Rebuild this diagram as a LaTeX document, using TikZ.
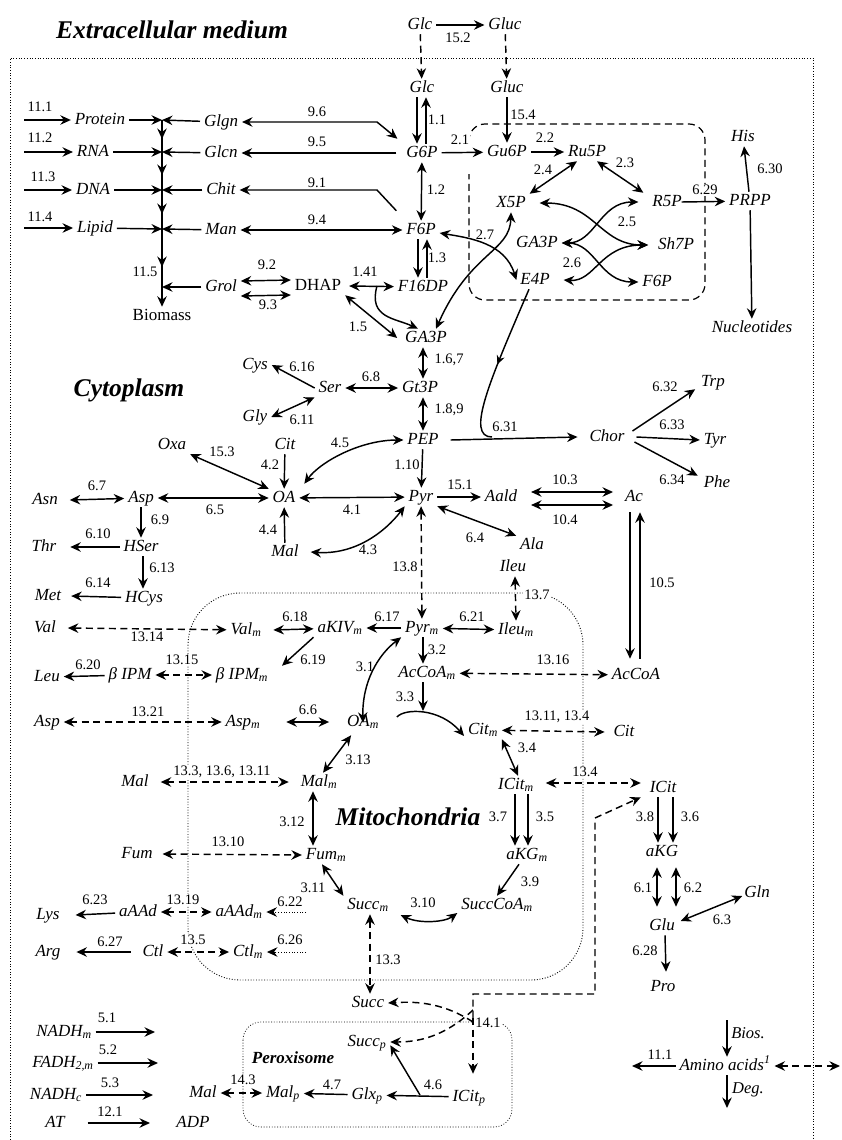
\documentclass[tikz,border=0pt]{standalone}
\usepackage{fontspec}
\setmainfont{Liberation Serif}
\usetikzlibrary{arrows.meta,decorations.markings}
\begin{document}
\begin{tikzpicture}[x=1pt,y=-1pt,
  mtb/.style={font=\fontsize{17}{19}\selectfont\itshape, inner xsep=4pt, inner ysep=1.5pt, text height=12pt, text depth=3.5pt, outer sep=0pt},
  upr/.style={mtb, font=\fontsize{17}{19}\selectfont},
  lab/.style={font=\fontsize{14.5}{16}\selectfont, inner sep=1pt, fill=white},
  labi/.style={font=\fontsize{16.5}{18}\selectfont\itshape, inner sep=1pt},
  ttl/.style={font=\fontsize{25.5}{28}\selectfont\bfseries\itshape, inner sep=0pt},
  ar/.style={-{Stealth[length=10.5pt,width=9.5pt,inset=3.5pt]}, line width=1.45pt},
  arr/.style={{Stealth[length=10.5pt,width=9.5pt,inset=3.5pt]}-{Stealth[length=10.5pt,width=9.5pt,inset=3.5pt]}, line width=1.45pt},
  dsh/.style={dash pattern=on 7pt off 4.5pt},
  dts/.style={line width=0.9pt, dash pattern=on 0.9pt off 1.8pt},
  midar/.style={postaction={decorate}, decoration={markings, mark=at position 0.5 with {\arrow{Stealth[length=9pt,width=8pt,inset=3pt]}}}},
]
\useasboundingbox (0,0) rectangle (841,1140);
\fill[white] (0,0) rectangle (841,1140);

% ---------- compartments ----------
\draw[dts] (10,1140) -- (10,58) -- (813,58) -- (813,1140);
\draw[dsh, line width=1.2pt, rounded corners=16] (469,142) -- (469,124) -- (705,124) -- (705,300) -- (469,300) -- (469,174);
\draw[dts, rounded corners=52] (188,593) rectangle (583,980);
\draw[dts, line width=0.7pt, rounded corners=18] (243,1022) rectangle (512,1127);

% ---------- titles ----------
\node[ttl] (tEx) at (172,30) {Extracellular medium};
\node[ttl] (tCy) at (129,390) {Cytoplasm};
\node[ttl] (tMi) at (408,817) {Mitochondria};
\node[ttl, font=\fontsize{17}{19}\selectfont\bfseries\itshape] (tPe) at (293,1058) {Peroxisome};

% ---------- labels ----------
\node[lab] (l152) at (458,38) {15.2};
\node[lab] (l11) at (437,120) {1.1};
\node[lab] (l154) at (523,115) {15.4};
\node[lab] (l21) at (460,140) {2.1};
\node[lab] (l22) at (545,138) {2.2};
\node[lab] (l24) at (543,170) {2.4};
\node[lab] (l23) at (625,163) {2.3};
\node[lab] (l25) at (627,222) {2.5};
\node[lab] (l26) at (572,263) {2.6};
\node[lab] (l27) at (485,235) {2.7};
\node[lab] (l629) at (705,190) {6.29};
\node[lab] (l630) at (770,169) {6.30};
\node[lab] (l96) at (317,112) {9.6};
\node[lab] (l95) at (317,142) {9.5};
\node[lab] (l91) at (317,183) {9.1};
\node[lab] (l94) at (317,220) {9.4};
\node[lab] (l12) at (436,190) {1.2};
\node[lab] (l13) at (437,258) {1.3};
\node[lab] (l141) at (365,272) {1.41};
\node[lab] (l15) at (358,327) {1.5};
\node[lab] (l92) at (267,265) {9.2};
\node[lab] (l93) at (268,305) {9.3};
\node[lab] (l111) at (40,107) {11.1};
\node[lab] (l112) at (40,138) {11.2};
\node[lab] (l113) at (43,177) {11.3};
\node[lab] (l114) at (40,217) {11.4};
\node[lab] (l115) at (145,272) {11.5};
\node[lab] (l167) at (449,360) {1.6,7};
\node[lab] (l189) at (449,410) {1.8,9};
\node[lab] (l68) at (371,377) {6.8};
\node[lab] (l616) at (302,367) {6.16};
\node[lab] (l611) at (302,420) {6.11};
\node[lab] (l631) at (505,427) {6.31};
\node[lab] (l632) at (665,387) {6.32};
\node[lab] (l633) at (672,425) {6.33};
\node[lab] (l634) at (672,480) {6.34};
\node[lab] (l42) at (270,465) {4.2};
\node[lab] (l153) at (222,452) {15.3};
\node[lab] (l67) at (97,486) {6.7};
\node[lab] (l65) at (215,510) {6.5};
\node[lab] (l69) at (160,520) {6.9};
\node[lab] (l610) at (98,534) {6.10};
\node[lab] (l613) at (162,568) {6.13};
\node[lab] (l614) at (98,583) {6.14};
\node[lab] (l44) at (268,530) {4.4};
\node[lab] (l45) at (340,443) {4.5};
\node[lab] (l41) at (352,510) {4.1};
\node[lab] (l110) at (407,465) {1.10};
\node[lab] (l43) at (368,550) {4.3};
\node[lab] (l151) at (460,485) {15.1};
\node[lab] (l64) at (475,538) {6.4};
\node[lab] (l103) at (565,480) {10.3};
\node[lab] (l104) at (565,520) {10.4};
\node[lab] (l105) at (662,583) {10.5};
\node[lab] (l138) at (405,567) {13.8};
\node[lab] (l137) at (537,595) {13.7};
\node[lab] (l621) at (472,617) {6.21};
\node[lab] (l617) at (387,617) {6.17};
\node[lab] (l618) at (295,617) {6.18};
\node[lab] (l1314) at (147,637) {13.14};
\node[lab] (l619) at (313,660) {6.19};
\node[lab] (l620) at (88,665) {6.20};
\node[lab] (l1315) at (182,660) {13.15};
\node[lab] (l1321) at (148,712) {13.21};
\node[lab] (l32) at (437,650) {3.2};
\node[lab] (l1316) at (553,660) {13.16};
\node[lab] (l66) at (308,710) {6.6};
\node[lab] (l31) at (365,667) {3.1};
\node[lab] (l33) at (405,697) {3.3};
\node[lab] (l1311) at (557,717) {13.11, 13.4};
\node[lab] (l34) at (527,748) {3.4};
\node[lab] (l134) at (585,772) {13.4};
\node[lab] (l37) at (498,817) {3.7};
\node[lab] (l35) at (545,817) {3.5};
\node[lab] (l39) at (530,882) {3.9};
\node[lab] (l310) at (423,903) {3.10};
\node[lab] (l311) at (313,888) {3.11};
\node[lab] (l313) at (358,760) {3.13};
\node[lab] (l312) at (292,822) {3.12};
\node[lab] (l1336) at (222,772) {13.3, 13.6, 13.11};
\node[lab] (l1310) at (228,842) {13.10};
\node[lab] (l623) at (95,900) {6.23};
\node[lab] (l1319) at (183,900) {13.19};
\node[lab] (l622) at (290,902) {6.22};
\node[lab] (l627) at (110,942) {6.27};
\node[lab] (l135) at (193,940) {13.5};
\node[lab] (l626) at (290,940) {6.26};
\node[lab] (l133) at (388,960) {13.3};
\node[lab] (l141b) at (488,1023) {14.1};
\node[lab] (l46) at (433,1085) {4.6};
\node[lab] (l47) at (332,1085) {4.7};
\node[lab] (l143) at (243,1080) {14.3};
\node[lab] (l51) at (107,1018) {5.1};
\node[lab] (l52) at (108,1050) {5.2};
\node[lab] (l53) at (110,1083) {5.3};
\node[lab] (l121) at (110,1112) {12.1};
\node[lab] (l38) at (645,817) {3.8};
\node[lab] (l36) at (690,817) {3.6};
\node[lab] (l61) at (643,888) {6.1};
\node[lab] (l62) at (693,888) {6.2};
\node[lab] (l63) at (722,920) {6.3};
\node[lab] (l628) at (645,951) {6.28};
\node[lab] (l111b) at (660,1055) {11.1};
\node[labi] (lbios) at (748,1033) {Bios.};
\node[labi] (ldeg) at (748,1090) {Deg.};

% ---------- metabolites ----------
\node[mtb] (glcX) at (420,25) {Glc};
\node[mtb] (glucX) at (505,25) {Gluc};
\node[mtb] (glc) at (422,88) {Glc};
\node[mtb] (gluc) at (507,88) {Gluc};
\node[mtb] (g6p) at (422,153) {G6P};
\node[mtb] (gu6p) at (507,152) {Gu6P};
\node[mtb] (ru5p) at (587,152) {Ru5P};
\node[mtb] (x5p) at (511,203) {X5P};
\node[mtb] (r5p) at (667,202) {R5P};
\node[mtb] (sh7p) at (676,245) {Sh7P};
\node[mtb] (f6pR) at (657,282) {F6P};
\node[mtb] (ga3pR) at (537,243) {GA3P};
\node[mtb] (e4p) at (535,280) {E4P};
\node[mtb] (prpp) at (750,201) {PRPP};
\node[mtb] (his) at (743,137) {His};
\node[mtb] (nucl) at (752,328) {Nucleotides};
\node[mtb] (f6p) at (421,230) {F6P};
\node[mtb] (f16dp) at (423,287) {F16DP};
\node[upr] (dhap) at (318,286) {DHAP};
\node[mtb] (ga3p) at (426,338) {GA3P};
\node[mtb] (gt3p) at (420,388) {Gt3P};
\node[mtb] (pep) at (423,440) {PEP};
\node[mtb] (pyr) at (421,497) {Pyr};
\node[mtb] (aald) at (501,497) {Aald};
\node[mtb] (ala) at (532,545) {Ala};
\node[mtb] (ac) at (634,497) {Ac};
\node[mtb] (accoa) at (636,675) {AcCoA};
\node[mtb] (chor) at (607,437) {Chor};
\node[mtb] (trp) at (713,382) {Trp};
\node[mtb] (tyr) at (715,440) {Tyr};
\node[mtb] (phe) at (717,483) {Phe};
\node[mtb] (protein) at (100,120) {Protein};
\node[mtb] (rna) at (93,152) {RNA};
\node[mtb] (dna) at (93,190) {DNA};
\node[mtb] (lipid) at (95,228) {Lipid};
\node[mtb] (glgn) at (221,122) {Glgn};
\node[mtb] (glcn) at (221,153) {Glcn};
\node[mtb] (chit) at (221,190) {Chit};
\node[mtb] (man) at (221,230) {Man};
\node[mtb] (grol) at (221,287) {Grol};
\node[upr] (biomass) at (162,316) {Biomass};
\node[mtb] (cys) at (255,365) {Cys};
\node[mtb] (gly) at (255,417) {Gly};
\node[mtb] (ser) at (330,388) {Ser};
\node[mtb] (oxa) at (172,445) {Oxa};
\node[mtb] (citC) at (285,445) {Cit};
\node[mtb] (oa) at (284,498) {OA};
\node[mtb] (malC) at (285,552) {Mal};
\node[mtb] (asn) at (45,500) {Asn};
\node[mtb] (asp) at (141,498) {Asp};
\node[mtb] (thr) at (44,547) {Thr};
\node[mtb] (hser) at (141,547) {HSer};
\node[mtb] (hcys) at (144,598) {HCys};
\node[mtb] (metn) at (48,596) {Met};
\node[mtb] (ileu) at (513,567) {Ileu};
\node[mtb] (ileum) at (516,630) {Ileu\textsubscript{m}};
\node[mtb] (pyrm) at (422,628) {Pyr\textsubscript{m}};
\node[mtb] (akivm) at (340,628) {aKIV\textsubscript{m}};
\node[mtb] (valm) at (246,630) {Val\textsubscript{m}};
\node[mtb] (val) at (45,628) {Val};
\node[mtb] (bipmm) at (242,675) {β IPM\textsubscript{m}};
\node[mtb] (bipm) at (130,675) {β IPM};
\node[mtb] (leu) at (47,677) {Leu};
\node[mtb] (asp2) at (47,722) {Asp};
\node[mtb] (aspm) at (243,722) {Asp\textsubscript{m}};
\node[mtb] (accoam) at (427,673) {AcCoA\textsubscript{m}};
\node[mtb] (oam) at (363,722) {OA\textsubscript{m}};
\node[mtb] (citm) at (483,730) {Cit\textsubscript{m}};
\node[mtb] (cit2) at (624,732) {Cit};
\node[mtb] (icitm) at (516,785) {ICit\textsubscript{m}};
\node[mtb] (icit) at (663,788) {ICit};
\node[mtb] (akgm) at (527,855) {aKG\textsubscript{m}};
\node[mtb] (succcoam) at (497,905) {SuccCoA\textsubscript{m}};
\node[mtb] (succm) at (368,905) {Succ\textsubscript{m}};
\node[mtb] (fumm) at (326,855) {Fum\textsubscript{m}};
\node[mtb] (malm) at (319,782) {Mal\textsubscript{m}};
\node[mtb] (mal3) at (135,782) {Mal};
\node[mtb] (fum) at (137,854) {Fum};
\node[mtb] (aaadm) at (239,912) {aAAd\textsubscript{m}};
\node[mtb] (aaad) at (138,912) {aAAd};
\node[mtb] (lys) at (48,915) {Lys};
\node[mtb] (ctlm) at (248,952) {Ctl\textsubscript{m}};
\node[mtb] (ctl) at (153,952) {Ctl};
\node[mtb] (arg) at (48,952) {Arg};
\node[mtb] (succ) at (368,1003) {Succ};
\node[mtb] (succp) at (367,1042) {Succ\textsubscript{p}};
\node[mtb] (icitp) at (469,1097) {ICit\textsubscript{p}};
\node[mtb] (glxp) at (367,1095) {Glx\textsubscript{p}};
\node[mtb] (malp) at (283,1093) {Mal\textsubscript{p}};
\node[mtb] (mal4) at (203,1093) {Mal};
\node[mtb] (nadhm) at (64,1032) {NADH\textsubscript{m}};
\node[mtb] (fadh) at (63,1063) {FADH\textsubscript{2,m}};
\node[mtb] (nadhc) at (56,1095) {NADH\textsubscript{c}};
\node[mtb] (atn) at (55,1123) {AT};
\node[mtb] (adp) at (193,1123) {ADP};
\node[mtb] (akg) at (662,852) {aKG};
\node[mtb] (glu) at (662,926) {Glu};
\node[mtb] (gln) at (757,893) {Gln};
\node[mtb] (pro) at (663,987) {Pro};
\node[mtb] (aa) at (725,1066) {Amino acids\textsuperscript{1}};

% ---------- coordinates ----------
\coordinate (j1) at (162,120); \coordinate (j2) at (162,152);
\coordinate (j3) at (162,190); \coordinate (j4) at (162,229);
\coordinate (j5) at (162,287);
\coordinate (m1) at (162,139); \coordinate (m2) at (162,175);
\coordinate (m3) at (162,214); \coordinate (m4) at (162,267);
\coordinate (s1) at (24,120); \coordinate (s2) at (24,152);
\coordinate (s3) at (24,190); \coordinate (s4) at (24,228);
\coordinate (k96) at (377,122); \coordinate (k91) at (377,190);
\coordinate (k141) at (377,286);
\coordinate (k631) at (492,437);
\coordinate (k33) at (423,711);
\coordinate (k622) at (306,912); \coordinate (k626) at (306,952);
\coordinate (j14) at (473,1018);
\coordinate (k14a) at (473,994); \coordinate (k14b) at (595,994);
\coordinate (k14c) at (595,818);
\coordinate (k46) at (420,1095);
\coordinate (k51) at (155,1032); \coordinate (k52) at (158,1063);
\coordinate (k53) at (153,1095); \coordinate (k121) at (150,1123);
\coordinate (kbios) at (727,1020); \coordinate (kdeg) at (727,1108);
\coordinate (k111b) at (632,1066); \coordinate (kaaR) at (840,1066);

% ---------- biomass column ----------
\draw[line width=1.45pt] (j1) -- (j5);
\draw[ar] (j1) -- (m1); \draw[ar] (j2) -- (m2); \draw[ar] (j3) -- (m3); \draw[ar] (j4) -- (m4);
\draw[ar] (j5) -- (biomass);
\draw[ar] (protein) -- (j1); \draw[ar] (glgn) -- (j1);
\draw[ar] (rna) -- (j2); \draw[ar] (glcn) -- (j2);
\draw[ar] (dna) -- (j3); \draw[ar] (chit) -- (j3);
\draw[ar] (lipid) -- (j4); \draw[ar] (man) -- (j4);
\draw[ar] (grol) -- (j5);
\draw[ar] (s1) -- (protein); \draw[ar] (s2) -- (rna);
\draw[ar] (s3) -- (dna); \draw[ar] (s4) -- (lipid);

% ---------- upper glycolysis / PPP ----------
\draw[ar] (glcX) -- (glucX);
\draw[ar,dsh] (glcX) -- (glc);
\draw[ar,dsh] (glucX) -- (gluc);
\draw[ar] ([xshift=-5]glc.south) -- ([xshift=-5]g6p.north);
\draw[ar] ([xshift=4]g6p.north) -- ([xshift=4]glc.south);
\draw[ar] (gluc) -- (gu6p);
\draw[ar] (g6p) -- (gu6p);
\draw[ar] (gu6p) -- (ru5p);
\draw[arr] ([xshift=-10]ru5p.south) -- (x5p.north east);
\draw[arr] ([xshift=10]ru5p.south) -- ([xshift=-5]r5p.north west);
\draw[ar] ([xshift=-4]r5p.east) -- (prpp);
\draw[ar] (prpp) -- (his);
\draw[ar] (prpp) -- (nucl);
\draw[arr] (ga3pR.east) .. controls (595,243) and (600,202) .. ([xshift=-10]r5p.west);
\draw[arr] ([xshift=10]x5p.east) .. controls (595,203) and (600,245) .. ([xshift=-6]sh7p.west);
\draw[arr] (ga3pR.east) .. controls (595,243) and (600,282) .. (f6pR.west);
\draw[arr] ([xshift=10]e4p.east) .. controls (595,282) and (600,245) .. ([xshift=-6]sh7p.west);
\draw[arr] ([yshift=-3]f6p.east) .. controls (470,238) and (505,243) .. (e4p.west);
\draw[arr] (x5p.south) .. controls (510,252) and (470,252) .. ([xshift=10]ga3p.north);
\draw[arr] (glgn) -- (k96) -- ([shift={(-5,-5)}]g6p.north west);
\draw[ar] ([xshift=-6]g6p.west) -- (glcn);
\draw[ar] ([shift={(-6,-10)}]f6p.north west) -- (k91) -- (chit);
\draw[arr] (man) -- (f6p);
\draw[arr] (g6p) -- (f6p);
\draw[ar] ([xshift=-3]f6p.south) -- ([xshift=-5]f16dp.north);
\draw[ar] ([xshift=4]f16dp.north) -- ([xshift=6]f6p.south);
\draw[arr] ([xshift=4]dhap.east) -- (f16dp);
\draw[ar] (k141) .. controls (368,318) and (395,318) .. ([xshift=-8]ga3p.north);
\draw[arr] (dhap.south east) -- ([xshift=-4]ga3p.west);
\draw[arr] ([yshift=-9]grol.east) -- ([yshift=-9]dhap.west);
\draw[arr] ([yshift=6]grol.east) -- ([yshift=6]dhap.west);

% ---------- lower glycolysis ----------
\draw[arr] ([xshift=-3]ga3p.south) -- ([xshift=3]gt3p.north);
\draw[arr] ([xshift=3]gt3p.south) -- (pep.north);
\draw[ar] (pep) -- (pyr);
\draw[arr] (ser) -- (gt3p);
\draw[ar] (ser.west) -- (cys.east);
\draw[arr] (gly.east) -- (ser.south west);
\draw[ar] ([xshift=8]pep.east) -- ([xshift=-8]chor.west);
\draw[line width=1.45pt, midar] ([xshift=-6]e4p.south) .. controls (490,380) and (465,437) .. (k631);
\draw[ar] ([shift={(4,-6)}]chor.east) -- ([shift={(-2,-2)}]trp.south west);
\draw[ar] ([xshift=8]chor.east) -- (tyr.west);
\draw[ar] ([shift={(6,5)}]chor.east) -- ([shift={(-2,2)}]phe.north west);
\draw[ar] (citC) -- (oa);
\draw[ar] (malC) -- (oa);
\draw[arr] (oxa.south east) -- (oa.north west);
\draw[arr] ([xshift=8]asn.east) -- (asp);
\draw[arr] (asp) -- (oa);
\draw[ar] (asp) -- (hser);
\draw[ar] (hser) -- ([xshift=10]thr.east);
\draw[ar] ([xshift=2]hser.south) -- ([xshift=-1]hcys.north);
\draw[ar] (hcys) -- ([xshift=6]metn.east);
\draw[arr] ([shift={(5,-5)}]oa.north east) .. controls (320,462) and (360,440) .. (pep.west);
\draw[arr] (oa) -- (pyr);
\draw[arr] ([xshift=8]malC.east) .. controls (355,555) and (385,532) .. (pyr.south west);
\draw[ar] (pyr) -- (aald);
\draw[arr] (pyr.south east) -- (ala.north west);
\draw[arr] ([shift={(10,-5)}]aald.east) -- ([shift={(-8,-5)}]ac.west);
\draw[arr] ([shift={(10,8)}]aald.east) -- ([shift={(-8,8)}]ac.west);
\draw[ar] ([shift={(-4,6)}]ac.south) -- ([shift={(-6,-7)}]accoa.north);
\draw[ar] ([shift={(4,-7)}]accoa.north) -- ([shift={(6,6)}]ac.south);

% ---------- mitochondria ----------
\draw[arr,dsh] (pyr) -- (pyrm);
\draw[arr,dsh] ([xshift=2]ileu.south) -- (ileum.north);
\draw[arr] (pyrm) -- (ileum);
\draw[ar] (pyrm) -- (akivm);
\draw[arr] ([xshift=8]valm.east) -- (akivm);
\draw[arr,dsh] ([xshift=8]val.east) -- (valm);
\draw[ar] (akivm.south west) -- ([xshift=10]bipmm.north east);
\draw[ar] (bipm) -- (leu);
\draw[arr,dsh] (bipm) -- (bipmm);
\draw[arr,dsh] (asp2) -- (aspm);
\draw[ar] ([xshift=1]pyrm.south) -- ([xshift=-4]accoam.north);
\draw[arr,dsh] (accoam) -- (accoa);
\draw[arr] ([xshift=22]aspm.east) -- ([xshift=-14]oam.west);
\draw[arr] ([yshift=-10]oam.north) .. controls (362,682) and (378,655) .. (pyrm.south west);
\draw[ar] ([xshift=-4]accoam.south) -- (k33);
\draw[ar] ([shift={(14,-5)}]oam.east) .. controls (405,708) and (440,708) .. ([yshift=-6]citm.west);
\draw[arr,dsh] (citm) -- ([xshift=-5]cit2.west);
\draw[arr] (citm.south east) -- ([xshift=2]icitm.north);
\draw[arr,dsh] ([shift={(8,-2)}]icitm.east) -- ([shift={(-5,-5)}]icit.west);
\draw[ar] ([xshift=-1]icitm.south) -- ([xshift=-12]akgm.north);
\draw[ar] ([xshift=12]icitm.south) -- ([xshift=1]akgm.north);
\draw[ar] ([xshift=-8]akgm.south) -- (succcoam.north);
\draw[arr] ([shift={(8,10)}]succm.east) .. controls (420,924) and (445,922) .. ([shift={(0,8)}]succcoam.west);
\draw[arr] ([xshift=-4]fumm.south) -- (succm.north west);
\draw[arr] ([xshift=4]malm.north) -- ([shift={(8,4)}]oam.south west);
\draw[arr] ([xshift=-6]malm.south) -- ([xshift=-13]fumm.north);
\draw[arr,dsh] ([xshift=8]mal3.east) -- ([xshift=-8]malm.west);
\draw[arr,dsh] ([xshift=6]fum.east) -- (fumm.west);
\draw[ar] (aaad) -- ([xshift=12]lys.east);
\draw[arr,dsh] (aaad) -- (aaadm);
\draw[ar,dts,line width=1pt] (k622) -- (aaadm);
\draw[ar] ([xshift=-8]ctl.west) -- ([xshift=12]arg.east);
\draw[arr,dsh] (ctl) -- (ctlm);
\draw[ar,dts,line width=1pt] (k626) -- (ctlm);
\draw[arr,dsh] ([xshift=2]succm.south) -- ([xshift=2]succ.north);

% ---------- peroxisome / glyoxylate ----------
\draw[ar,dsh] (j14) -- (k14a) -- (k14b) -- (k14c) -- ([xshift=-5]icit.south west);
\draw[ar,dsh] (j14) -- ([shift={(4,-14)}]icitp.north);
\draw[ar,dsh] ([yshift=-4]j14) .. controls (445,1004) and (420,1001) .. (succ.east);
\draw[ar,dsh] ([yshift=8]j14) .. controls (445,1036) and (420,1042) .. (succp.east);
\draw[ar] (icitp) -- (glxp);
\draw[ar] (k46) -- ([yshift=6]succp.south east);
\draw[ar] (glxp) -- (malp);
\draw[arr,dsh] (mal4) -- (malp);

% ---------- energy ----------
\draw[ar] (nadhm) -- (k51);
\draw[ar] (fadh) -- (k52);
\draw[ar] (nadhc) -- (k53);
\draw[ar] ([xshift=19]atn.east) -- (k121);

% ---------- amino acids right ----------
\draw[ar] ([xshift=-5]icit.south) -- ([xshift=-4]akg.north);
\draw[ar] ([xshift=10]icit.south) -- ([xshift=11]akg.north);
\draw[arr] ([shift={(-5,6)}]akg.south) -- ([shift={(-5,-10)}]glu.north);
\draw[arr] ([shift={(14,6)}]akg.south) -- ([shift={(14,-10)}]glu.north);
\draw[arr] ([shift={(2,-5)}]glu.east) -- ([shift={(2,3)}]gln.west);
\draw[ar] ([xshift=3]glu.south) -- ([shift={(3,-6)}]pro.north);
\draw[ar] (kbios) -- ([xshift=2]aa.north);
\draw[ar] ([xshift=2]aa.south) -- (kdeg);
\draw[ar] (aa) -- (k111b);
\draw[arr,dsh] (aa) -- (kaaR);
\end{tikzpicture}
\end{document}
